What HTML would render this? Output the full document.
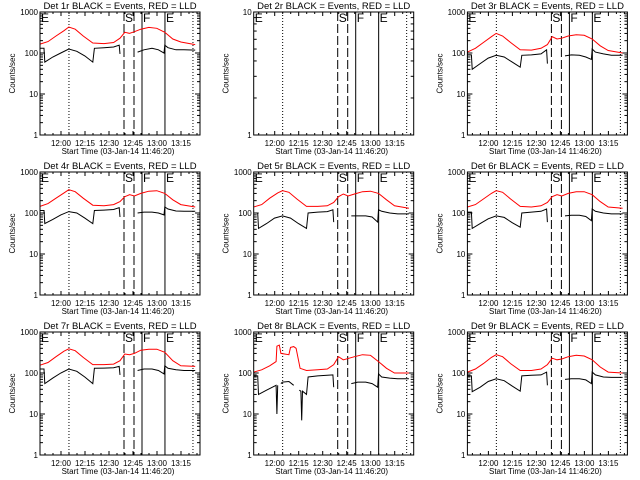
<!DOCTYPE html>
<html><head><meta charset="utf-8"><style>
html,body{margin:0;padding:0;background:#fff;}
svg{display:block;font-family:"Liberation Sans",sans-serif;}
</style></head><body>
<svg id="chart" width="640" height="480" viewBox="0 0 640 480" xmlns="http://www.w3.org/2000/svg">
<rect width="640" height="480" fill="#fff"/>
</svg>
<script>
// ---- data ----
const panelTitles = ["Det 1r BLACK = Events, RED = LLD","Det 2r BLACK = Events, RED = LLD","Det 3r BLACK = Events, RED = LLD",
 "Det 4r BLACK = Events, RED = LLD","Det 5r BLACK = Events, RED = LLD","Det 6r BLACK = Events, RED = LLD",
 "Det 7r BLACK = Events, RED = LLD","Det 8r BLACK = Events, RED = LLD","Det 9r BLACK = Events, RED = LLD"];
const xTickLabels = ["12:00","12:15","12:30","12:45","13:00","13:15"];
const xTickMinutes = [0,15,30,45,60,75];
const redT = [0,5,10,15,18,22,27,33,40,46,50,53,56,59,63,68,73,78,83,88,97];
const blackT = [0,2.5,3,8,13,18,23,28,33,34,40,46,49.5,50,null,61,65,70,74,77.5,78,80,85,90,97];
const redT8 = [0,5,10,14,14.5,16,17,22,23,25,26.5,29,33,40,46,50,53,56,63,68,73,78,83,88,97];
const blackT8 = [0,2.5,3,8,14,14.5,15,null,17,18,22,25,null,28.5,29.5,30,30.5,33,34,40,46,49.5,50,null,61,65,70,74,77.5,78,80,85,90,97];
const red1 = [165,190,260,350,430,380,260,175,170,180,230,320,300,330,380,420,400,320,220,185,160];
const black1 = [130,130,60,80,100,125,110,85,60,130,135,140,155,95,null,105,120,130,120,100,155,135,120,120,118];
const red3 = [105,130,180,250,300,260,180,120,118,130,160,250,220,230,260,280,270,220,150,115,100];
const black3 = [90,90,40,55,75,88,80,60,45,88,90,95,120,55,null,85,90,88,80,70,125,105,95,88,88];
const red4 = [145,170,230,310,370,330,230,155,150,160,190,250,280,260,300,340,350,300,210,160,140];
const black4 = [115,115,55,70,90,108,100,75,55,115,118,122,135,80,null,100,105,105,100,90,140,125,112,110,110];
const red5 = [140,160,230,310,350,320,220,145,145,150,180,250,290,260,290,330,340,300,210,150,130];
const black5 = [100,100,42,55,75,85,75,55,42,100,105,108,120,60,null,85,85,85,80,60,120,110,100,95,95];
const red6 = [140,160,220,300,350,320,220,145,140,150,180,250,280,260,300,330,330,280,190,140,130];
const black6 = [105,105,42,55,72,85,78,58,45,100,105,110,125,60,null,85,88,88,82,65,125,110,100,95,95];
const red7 = [155,180,250,340,390,350,240,160,160,165,200,290,280,300,360,380,380,320,200,150,145];
const black7 = [125,125,55,75,100,125,110,80,55,130,132,135,145,90,null,115,125,125,115,95,150,130,120,115,115];
const red8 = [105,120,150,190,450,480,300,280,420,440,400,130,115,120,125,160,250,210,250,280,270,190,130,100,100];
const black8 = [85,85,30,38,50,10,50,null,55,60,62,50,null,38,36,7,36,30,80,85,88,90,45,null,55,60,60,55,45,95,80,75,72,72];
const red9 = [105,125,170,240,280,250,170,115,115,125,160,230,210,220,250,270,260,210,140,105,100];
const black9 = [85,85,35,45,62,72,65,48,36,85,88,90,105,50,null,70,72,72,68,55,105,90,80,78,78];
const dottedT = [18.1,95.6];
const dashedT = [52.5,58.75];
const solidT = [63.75,78.1];

const NS="http://www.w3.org/2000/svg";
const svg=document.getElementById('chart');
function mk(tag,attrs,parent){const e=document.createElementNS(NS,tag);for(const k in attrs)e.setAttribute(k,attrs[k]);(parent||svg).appendChild(e);return e;}

const panels=[
 {red:red1,rt:redT,black:black1,bt:blackT,ymin:1,ymax:1000},
 {red:null,rt:null,black:null,bt:null,ymin:1,ymax:10},
 {red:red3,rt:redT,black:black3,bt:blackT,ymin:1,ymax:1000},
 {red:red4,rt:redT,black:black4,bt:blackT,ymin:1,ymax:1000},
 {red:red5,rt:redT,black:black5,bt:blackT,ymin:1,ymax:1000},
 {red:red6,rt:redT,black:black6,bt:blackT,ymin:1,ymax:1000},
 {red:red7,rt:redT,black:black7,bt:blackT,ymin:1,ymax:1000},
 {red:red8,rt:redT8,black:black8,bt:blackT8,ymin:1,ymax:1000},
 {red:red9,rt:redT,black:black9,bt:blackT,ymin:1,ymax:1000}];

panels.forEach((p,i)=>{
 const c=i%3,r=Math.floor(i/3);
 const L=40+213.7*c, R=L+160, T=12+160*r, B=T+123;
 const g=mk('g',{});
 
 
 const lmin=Math.log10(p.ymin), lmax=Math.log10(p.ymax);
 const X=t=>L+t*1.6;
 const Y=v=>T+(lmax-Math.log10(v))/(lmax-lmin)*123;
 const XM=m=>L+21+1.6*m;
 const tt=mk('text',{x:(L+R)/2,y:T-3,'font-size':'9.5','text-anchor':'middle',fill:'#000'},g);
 tt.textContent=panelTitles[i];
 
 
 const yl=mk('text',{x:0,y:0,'font-size':'8','text-anchor':'middle',transform:`translate(${L-25},${(T+B)/2}) rotate(-90)`},g);
 yl.textContent='Counts/sec';
 
 
 for(let d=lmin; d<=lmax; d++){
  const v=Math.pow(10,d), y=Y(v);
  mk('line',{x1:L,x2:L+5,y1:y,y2:y,stroke:'#000'},g);
  mk('line',{x1:R-5,x2:R,y1:y,y2:y,stroke:'#000'},g);
  const lb=mk('text',{x:L-2,y:y+3,'font-size':'8','text-anchor':'end'},g);
  lb.textContent=String(v);
  
  
  if(d<lmax) for(let k=2;k<=9;k++){const yy=Y(v*k);
   mk('line',{x1:L,x2:L+3,y1:yy,y2:yy,stroke:'#000'},g);
   mk('line',{x1:R-3,x2:R,y1:yy,y2:yy,stroke:'#000'},g);}
 }
 for(let m=-10;m<=85;m+=5){const x=XM(m); if(x<L||x>R) continue;
  const len=(m%15===0)?4:2;
  mk('line',{x1:x,x2:x,y1:B,y2:B-len,stroke:'#000'},g);
  mk('line',{x1:x,x2:x,y1:T,y2:T+len,stroke:'#000'},g);}
 xTickLabels.forEach((s,k)=>{
  const lb=mk('text',{x:XM(xTickMinutes[k]),y:B+11,'font-size':'8','text-anchor':'middle'},g);
  lb.textContent=s;
  
  });
 const xt=mk('text',{x:(L+R)/2-2,y:B+19,'font-size':'8','text-anchor':'middle'},g);
 xt.textContent='Start Time (03-Jan-14 11:46:20)';
 
 
 dottedT.forEach(t=>{const l=mk('line',{x1:X(t),x2:X(t),y1:T,y2:B,stroke:'#000','stroke-dasharray':'1,2'},g);
  
  });
 dashedT.forEach(t=>{const l=mk('line',{x1:X(t),x2:X(t),y1:T,y2:B,stroke:'#000','stroke-dasharray':'9,3'},g);
  
  });
 solidT.forEach(t=>{const l=mk('line',{x1:X(t),x2:X(t),y1:T,y2:B,stroke:'#000'},g);
  
  });
 [['E',L+1],['S',X(dashedT[0])+1],['F',X(solidT[0])+1],['E',X(solidT[1])+1]].forEach(([s,x])=>{
  const lb=mk('text',{x:x,y:T+10,'font-size':'12',fill:'#000'},g);
  lb.textContent=s;
  
  });
 function series(ts,vs,color,name){
  if(!vs) return;
  let d='',pen=false;
  for(let k=0;k<ts.length;k++){
   if(ts[k]===null||vs[k]===null){pen=false;continue;}
   d+=(pen?'L':'M')+X(ts[k]).toFixed(1)+' '+Y(vs[k]).toFixed(1)+' ';pen=true;}
  const pth=mk('path',{d:d,fill:'none',stroke:color,'stroke-width':'1'},g);
  
  
 }
 series(p.rt,p.red,'#ff0000','lld-series');
 series(p.bt,p.black,'#000','events-series');
 const fr=mk('rect',{x:L,y:T,width:160,height:123,fill:'none',stroke:'#000'},g);
 
 
});
</script>
</body></html>
